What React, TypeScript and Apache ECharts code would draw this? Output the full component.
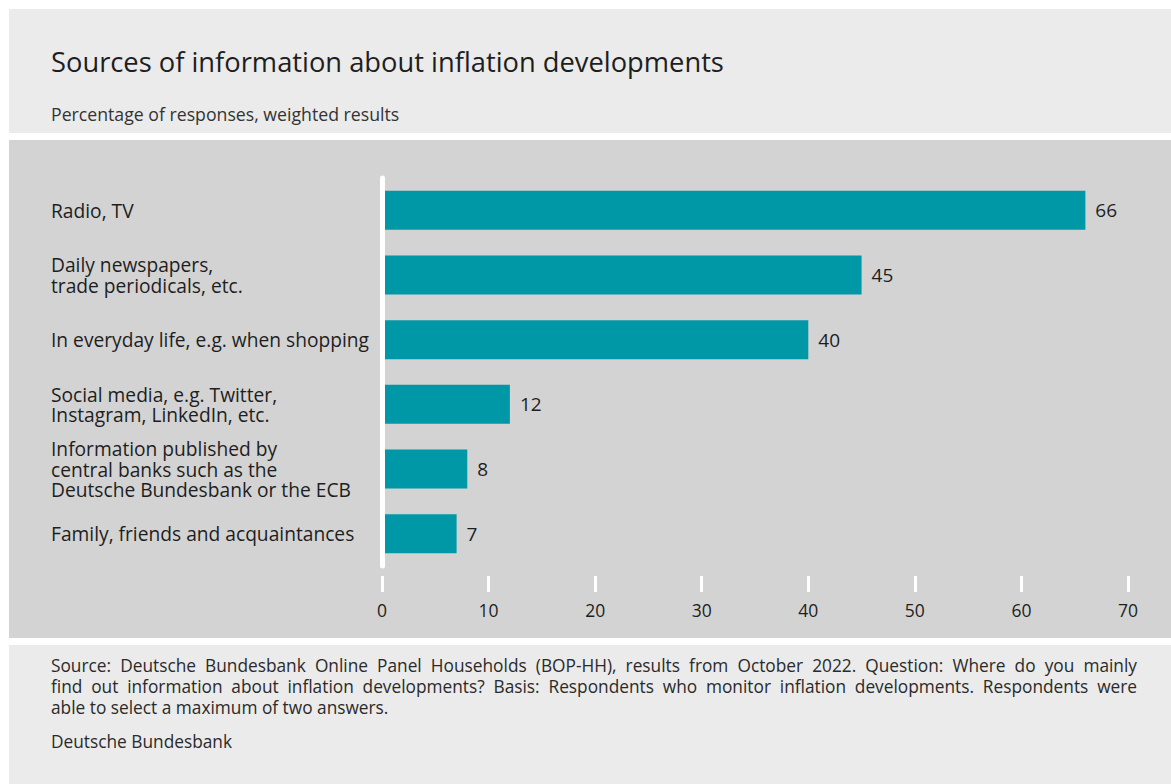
import React, { useEffect, useRef } from "react";
import * as echarts from "echarts";

const categories = [
  "Radio, TV",
  "Daily newspapers,\ntrade periodicals, etc.",
  "In everyday life, e.g. when shopping",
  "Social media, e.g. Twitter,\nInstagram, LinkedIn, etc.",
  "Information published by\ncentral banks such as the\nDeutsche Bundesbank or the ECB",
  "Family, friends and acquaintances",
];
const values = [66, 45, 40, 12, 8, 7];
const xTicks = [0, 10, 20, 30, 40, 50, 60, 70];

const title = "Sources of information about inflation developments";
const subtitle = "Percentage of responses, weighted results";
const footerLines = [
  "Source: Deutsche Bundesbank Online Panel Households (BOP-HH), results from October 2022. Question: Where do you mainly",
  "find out information about inflation developments? Basis: Respondents who monitor inflation developments. Respondents were",
  "able to select a maximum of two answers.",
];
const credit = "Deutsche Bundesbank";

const FONT = "'Open Sans', 'Noto Sans', sans-serif";
const TEXT = "#1e1e1e";
const FOOT_FONT = `17.3px ${FONT}`;

function justifiedLine(text: string, x0: number, x1: number, y: number, justify: boolean) {
  if (!justify) {
    return [{ type: "text", style: { x: x0, y, text, font: FOOT_FONT, fill: "#2a2a2a", verticalAlign: "middle" } }];
  }
  const canvas = document.createElement("canvas");
  const ctx = canvas.getContext("2d")!;
  ctx.font = FOOT_FONT;
  const words = text.split(" ");
  const widths = words.map((w) => ctx.measureText(w).width);
  const total = widths.reduce((a, b) => a + b, 0);
  const gap = (x1 - x0 - total) / (words.length - 1);
  const els: any[] = [];
  let x = x0;
  words.forEach((w, i) => {
    els.push({ type: "text", style: { x, y, text: w, font: FOOT_FONT, fill: "#2a2a2a", verticalAlign: "middle" } });
    x += widths[i] + gap;
  });
  return els;
}

export default function App() {
  const ref = useRef<HTMLDivElement>(null);
  useEffect(() => {
    if (!ref.current) return;
    const chart = echarts.init(ref.current, undefined, { renderer: "svg" });
    const footerTexts: any[] = [];
    footerLines.forEach((t, i) => {
      footerTexts.push(...justifiedLine(t, 51, 1137, 665 + i * 21, i < footerLines.length - 1));
    });
    chart.setOption({
      animation: false,
      backgroundColor: "#ffffff",
      textStyle: { fontFamily: FONT },
      graphic: [
        { type: "rect", shape: { x: 9, y: 9, width: 1162, height: 124 }, style: { fill: "#ebebeb" }, z: -10 },
        { type: "rect", shape: { x: 9, y: 140, width: 1162, height: 498 }, style: { fill: "#d3d3d3" }, z: -10 },
        { type: "rect", shape: { x: 9, y: 645, width: 1162, height: 139 }, style: { fill: "#ebebeb" }, z: -10 },
        {
          type: "text",
          style: { x: 51, y: 61, text: title, font: `27.3px ${FONT}`, fill: TEXT, verticalAlign: "middle" },
        },
        {
          type: "text",
          style: { x: 51, y: 114, text: subtitle, font: `17.7px ${FONT}`, fill: "#333333", verticalAlign: "middle" },
        },
        ...footerTexts,
        {
          type: "text",
          style: { x: 51, y: 741, text: credit, font: FOOT_FONT, fill: "#2a2a2a", verticalAlign: "middle" },
        },
      ],
      grid: { left: 382, right: 43, top: 178, bottom: 218, containLabel: false },
      xAxis: {
        type: "value",
        min: xTicks[0],
        max: xTicks[xTicks.length - 1],
        interval: 10,
        offset: 10,
        axisLine: { show: false },
        axisTick: { show: true, length: 16, lineStyle: { color: "#ffffff", width: 3 } },
        splitLine: { show: false },
        axisLabel: { margin: 25, fontSize: 17.5, color: TEXT, fontFamily: FONT },
      },
      yAxis: {
        type: "category",
        data: categories,
        inverse: true,
        axisLine: { show: true, lineStyle: { color: "#ffffff", width: 5 } },
        axisTick: { show: false },
        axisLabel: {
          align: "left",
          margin: 331,
          fontSize: 19.2,
          lineHeight: 20.5,
          color: TEXT,
          fontFamily: FONT,
        },
        z: 5,
      },
      series: [
        {
          type: "bar",
          data: values,
          barWidth: 39,
          itemStyle: { color: "#0097a7" },
          label: {
            show: true,
            position: "right",
            distance: 10,
            fontSize: 19,
            color: TEXT,
            fontFamily: FONT,
          },
        },
      ],
    });
    return () => chart.dispose();
  }, []);
  return (
    <div
      ref={ref}
      style={{ position: "fixed", left: 0, top: 0, width: 1171, height: 784 }}
    />
  );
}
